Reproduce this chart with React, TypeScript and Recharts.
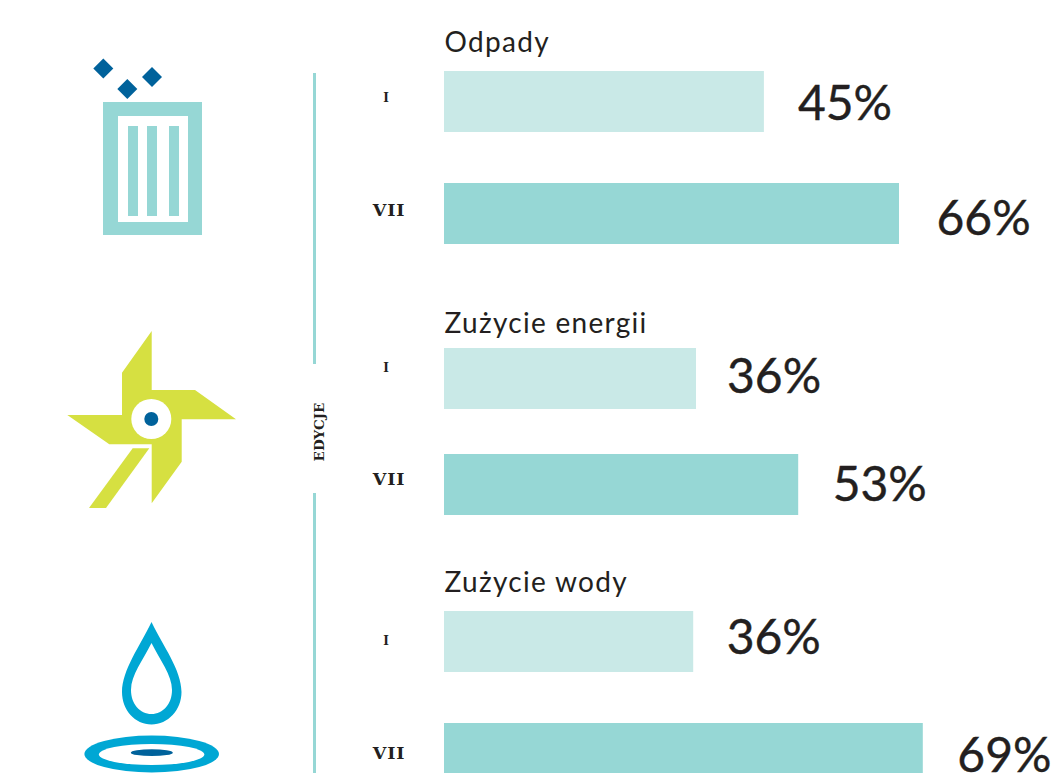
import { BarChart, Bar, Cell, XAxis, YAxis, LabelList } from 'recharts';

const editions = ['I', 'VII'];

// bar lengths, the printed labels do not quite follow them
const wasteValues = [45.7, 65];
const energyValues = [36, 50.6];
const waterValues = [35.6, 68.4];

const wasteLabels = ['45%', '66%'];
const energyLabels = ['36%', '53%'];
const waterLabels = ['36%', '69%'];

const INK = '#231F20';
const LIGHT = '#C9E9E7';
const TEAL = '#96D7D5';
const BLUE = '#00629B';
const GREEN = '#D6E041';
const CYAN = '#00A7D4';
const BAND_COLORS = [LIGHT, TEAL];

interface EditionBarsProps {
  top: number;
  height: number;
  values: number[];
  labels: string[];
  labelGap: number[];
  labelDy: number[];
  tickDy: number[];
}

function EditionBars({ top, height, values, labels, labelGap, labelDy, tickDy }: EditionBarsProps) {
  const data = editions.map((edition, i) => ({ edition, value: values[i], label: labels[i] }));
  return (
    <div style={{ position: 'absolute', left: 360, top }}>
      <BarChart layout="vertical" width={700} height={height} data={data} margin={{ top: 0, right: 0, bottom: 0, left: 0 }}>
        <XAxis type="number" hide domain={[0, 88]} />
        <YAxis
          type="category"
          dataKey="edition"
          width={84}
          axisLine={false}
          tickLine={false}
          tickSize={0}
          tickMargin={0}
          tick={(props: any) => {
            const small = props.payload.value === 'I';
            return (
              <text
                x={props.x - (small ? 58 : 55)}
                y={props.y + tickDy[props.index]}
                textAnchor="middle"
                dominantBaseline="central"
                fontFamily="'DejaVu Serif', serif"
                fontWeight={700}
                fontSize={small ? 12 : 17.5}
                letterSpacing={small ? 0 : 0.8}
                fill={INK}
              >
                {props.payload.value}
              </text>
            );
          }}
        />
        <Bar dataKey="value" barSize={61} isAnimationActive={false}>
          {data.map((d, i) => (
            <Cell key={d.edition} fill={BAND_COLORS[i]} />
          ))}
          <LabelList
            dataKey="label"
            content={(props: any) => (
              <text
                x={props.x + props.width + labelGap[props.index]}
                y={props.y + props.height / 2 + labelDy[props.index] + 17}
                fontFamily="Lato, sans-serif"
                fontSize={48}
                fill={INK}
                stroke={INK}
                strokeWidth={0.4}
              >
                {props.value}
              </text>
            )}
          />
        </Bar>
      </BarChart>
    </div>
  );
}

function Title({ top, children }: { top: number; children: string }) {
  return (
    <div
      style={{
        position: 'absolute',
        left: 444.5,
        top,
        fontFamily: 'Lato, sans-serif',
        fontSize: 28,
        lineHeight: '34px',
        letterSpacing: 1.3,
        color: INK,
        whiteSpace: 'nowrap',
      }}
    >
      {children}
    </div>
  );
}

function Icons() {
  return (
    <svg width={300} height={773} style={{ position: 'absolute', left: 0, top: 0 }}>
      {/* waste bin */}
      <rect x={103} y={102} width={99} height={133} fill={TEAL} />
      <rect x={118} y={116} width={70} height={106} fill="#fff" />
      <rect x={128} y={126} width={10} height={90} fill={TEAL} />
      <rect x={147} y={126} width={10} height={90} fill={TEAL} />
      <rect x={169} y={126} width={10} height={90} fill={TEAL} />
      <polygon points="103.3,58.5 113.3,68.5 103.3,78.5 93.3,68.5" fill={BLUE} />
      <polygon points="127.3,79 137.3,89 127.3,99 117.3,89" fill={BLUE} />
      <polygon points="152,67 162,77 152,87 142,77" fill={BLUE} />
      {/* pinwheel */}
      <polygon
        points="151.7,331 122,372.7 122,415 67.3,415 109.3,444.3 151.7,444.3 151.7,503.3 181.7,461.7 181.7,419.3 236,419.3 195,390 151.7,390"
        fill={GREEN}
      />
      <polygon points="132.7,448.3 149.3,448.3 106,508 89,508" fill={GREEN} />
      <circle cx={151.3} cy={419} r={20} fill="#fff" />
      <circle cx={151.3} cy={419} r={7} fill={BLUE} />
      {/* water drop */}
      <path d="M151.5 622 C140 646 122 670 122 692 C122 710 135 724.5 151.5 724.5 C168 724.5 181.5 710 181.5 692 C181.5 670 163 646 151.5 622 Z" fill={CYAN} />
      <path d="M151.5 643 C143 660 131 675 131 690 C131 704 140 714 151.5 714 C163 714 172 704 172 690 C172 675 160 660 151.5 643 Z" fill="#fff" />
      <ellipse cx={151.7} cy={754} rx={67.3} ry={18.5} fill={CYAN} />
      <ellipse cx={151.6} cy={754.5} rx={52.7} ry={10.5} fill="#fff" />
      <ellipse cx={151.8} cy={752.7} rx={21} ry={3.4} fill={BLUE} />
    </svg>
  );
}

export default function App() {
  return (
    <div style={{ position: 'fixed', left: 0, top: 0, width: 1056, height: 773, overflow: 'hidden', background: '#fff' }}>
      <Icons />
      {/* edition rule with its rotated caption */}
      <div style={{ position: 'absolute', left: 313, top: 73, width: 2.5, height: 291, background: TEAL }} />
      <div style={{ position: 'absolute', left: 313, top: 493, width: 2.5, height: 280, background: TEAL }} />
      <div
        style={{
          position: 'absolute',
          left: 319,
          top: 432,
          transform: 'translate(-50%, -50%) rotate(-90deg)',
          fontFamily: "'DejaVu Serif', serif",
          fontWeight: 700,
          fontSize: 13.5,
          color: INK,
          whiteSpace: 'nowrap',
        }}
      >
        EDYCJE
      </div>

      <Title top={24}>Odpady</Title>
      <Title top={305}>Zużycie energii</Title>
      <Title top={564}>Zużycie wody</Title>

      <EditionBars top={44.5} height={224} values={wasteValues} labels={wasteLabels} labelGap={[34, 37.5]} labelDy={[1, 4]} tickDy={[-3, -3.5]} />
      <EditionBars top={324.5} height={212} values={energyValues} labels={energyLabels} labelGap={[31, 34.5]} labelDy={[-3, -1]} tickDy={[-10.5, -5.5]} />
      <EditionBars top={584.5} height={224} values={waterValues} labels={waterLabels} labelGap={[33.5, 34.5]} labelDy={[-5, 1]} tickDy={[0, -0.5]} />
    </div>
  );
}
